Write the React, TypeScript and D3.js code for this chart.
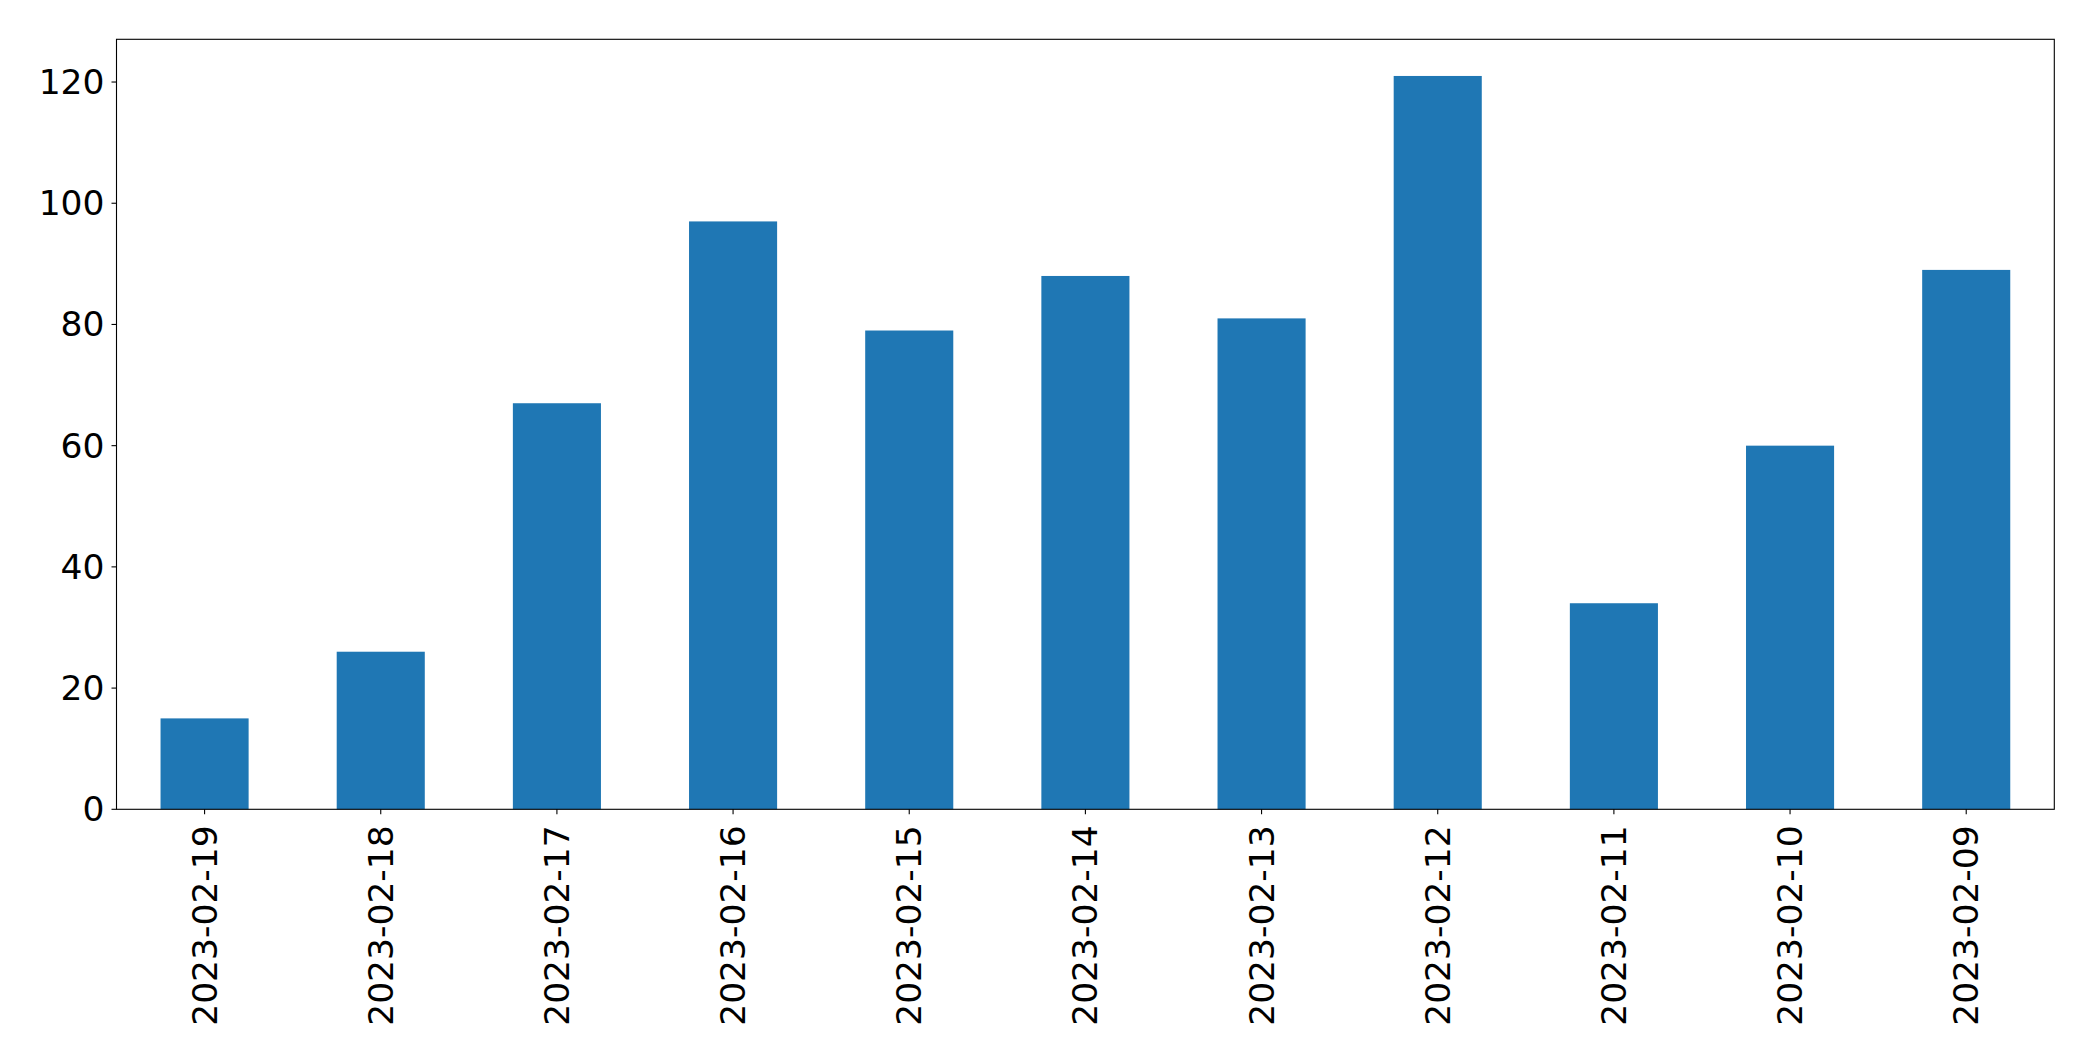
import React from "react";
import * as d3 from "d3";

const categories = [
  "2023-02-19", "2023-02-18", "2023-02-17", "2023-02-16", "2023-02-15", "2023-02-14",
  "2023-02-13", "2023-02-12", "2023-02-11", "2023-02-10", "2023-02-09",
];
const values = [15, 26, 67, 97, 79, 88, 81, 121, 34, 60, 89];
const yTicks = [0, 20, 40, 60, 80, 100, 120];

const W = 2093;
const H = 1061;
const margin = { left: 116.5, right: 2054.3, top: 39.3, bottom: 809.3 };
const FONT = "'DejaVu Sans', sans-serif";
const FS = 34.5;

export default function App() {
  const x = d3
    .scaleBand<string>()
    .domain(categories)
    .range([margin.left, margin.right])
    .paddingInner(0.5)
    .paddingOuter(0.25);
  const yMax = d3.max(values)! * 1.05;
  const y = d3.scaleLinear().domain([0, yMax]).range([margin.bottom, margin.top]);

  return (
    <svg
      width={W}
      height={H}
      style={{ position: "absolute", left: 0, top: 0, background: "#fff" }}
      fontFamily={FONT}
    >
      <rect x={0} y={0} width={W} height={H} fill="#fff" />
      {categories.map((c, i) => (
        <rect
          key={c}
          x={x(c)!}
          y={y(values[i])}
          width={x.bandwidth()}
          height={y(0) - y(values[i])}
          fill="#1f77b4"
        />
      ))}
      <rect
        x={margin.left}
        y={margin.top}
        width={margin.right - margin.left}
        height={margin.bottom - margin.top}
        fill="none"
        stroke="#000"
        strokeWidth={1.1}
      />
      {yTicks.map((t) => (
        <g key={t}>
          <line x1={margin.left - 5} x2={margin.left} y1={y(t)} y2={y(t)} stroke="#000" strokeWidth={1.1} />
          <text
            x={margin.left - 12}
            y={y(t)}
            textAnchor="end"
            dominantBaseline="central"
            fontSize={FS}
            fill="#000"
          >
            {t}
          </text>
        </g>
      ))}
      {categories.map((c) => {
        const cx = x(c)! + x.bandwidth() / 2;
        return (
          <g key={c}>
            <line x1={cx} x2={cx} y1={margin.bottom} y2={margin.bottom + 5} stroke="#000" strokeWidth={1.1} />
            <text
              transform={`translate(${cx},${margin.bottom + 16}) rotate(-90)`}
              textAnchor="end"
              dominantBaseline="central"
              fontSize={FS}
              fill="#000"
            >
              {c}
            </text>
          </g>
        );
      })}
    </svg>
  );
}
